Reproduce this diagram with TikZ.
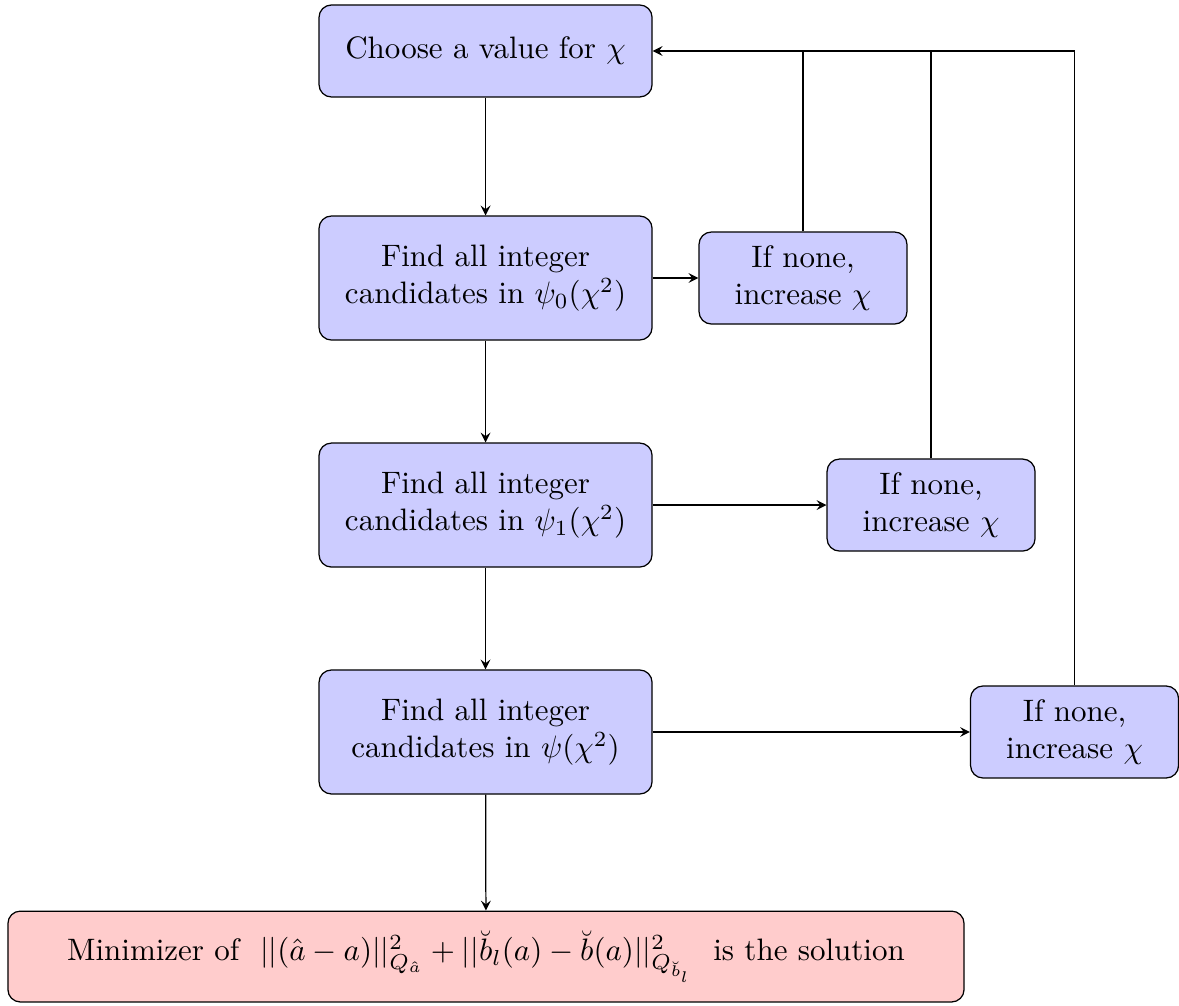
\documentclass[tikz,border=0pt]{standalone}
\usepackage{amsmath}
\usetikzlibrary{arrows}

\begin{document}
\begin{tikzpicture}[>=stealth,
    stepbox/.style={draw,fill=blue!20,rounded corners,align=center,minimum width=3.776cm,minimum height=1.406cm},
    nonebox/.style={draw,fill=blue!20,rounded corners,align=center,minimum width=2.358cm,minimum height=1.043cm},
    endbox/.style={draw,fill=red!20,rounded corners,minimum width=10.84cm,minimum height=1.03cm}]
  \useasboundingbox (0,0) rectangle (13.367,-11.395);
  \node[stepbox,minimum height=1.043cm] (choose) at (5.505,-0.578) {Choose a value for $\chi$};
  \node[stepbox] (psi0) at (5.505,-3.152) {Find all integer\\candidates in $\psi_0(\chi^2)$};
  \node[stepbox] (psi1) at (5.505,-5.726) {Find all integer\\candidates in $\psi_1(\chi^2)$};
  \node[stepbox] (psi) at (5.505,-8.299) {Find all integer\\candidates in $\psi(\chi^2)$};
  \node[endbox] (sol) at (5.51,-10.845) {Minimizer of \ $||(\hat{a}-a)||^2_{Q_{\hat{a}}}+||\breve{b}_l(a)-\breve{b}(a)||^2_{Q_{\breve{b}_l}}$ \ is the solution};
  \node[nonebox] (none0) at (9.104,-3.152) {If none,\\increase $\chi$};
  \node[nonebox] (none1) at (10.556,-5.726) {If none,\\increase $\chi$};
  \node[nonebox] (none2) at (12.183,-8.299) {If none,\\increase $\chi$};
  \draw[->] (choose) -- (psi0);
  \draw[->] (psi0) -- (psi1);
  \draw[->] (psi1) -- (psi);
  \draw[->] (psi) -- (sol);
  \draw[->] (psi0) -- (none0);
  \draw[->] (psi1) -- (none1);
  \draw[->] (psi) -- (none2);
  \draw[->] (none2.north) |- (choose.east);
  \foreach \n in {none0,none1} {
    \draw (\n.north) -- (\n.north |- choose.east);
  }
\end{tikzpicture}
\end{document}
